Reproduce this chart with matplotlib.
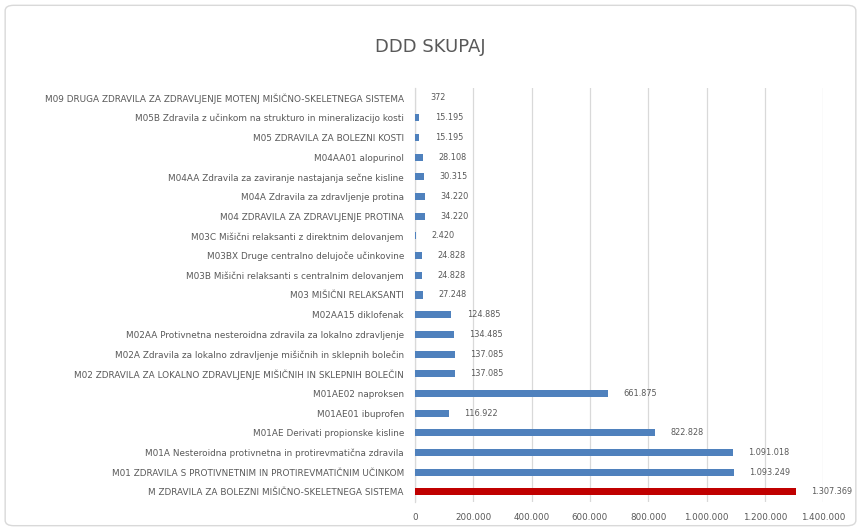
import matplotlib
matplotlib.use("Agg")
import matplotlib.pyplot as plt
from matplotlib.patches import FancyBboxPatch
from matplotlib.ticker import FuncFormatter

categories = [
    "M ZDRAVILA ZA BOLEZNI MIŠIČNO-SKELETNEGA SISTEMA",
    "M01 ZDRAVILA S PROTIVNETNIM IN PROTIREVMATIČNIM UČINKOM",
    "M01A Nesteroidna protivnetna in protirevmatična zdravila",
    "M01AE Derivati propionske kisline",
    "M01AE01 ibuprofen",
    "M01AE02 naproksen",
    "M02 ZDRAVILA ZA LOKALNO ZDRAVLJENJE MIŠIČNIH IN SKLEPNIH BOLEČIN",
    "M02A Zdravila za lokalno zdravljenje mišičnih in sklepnih bolečin",
    "M02AA Protivnetna nesteroidna zdravila za lokalno zdravljenje",
    "M02AA15 diklofenak",
    "M03 MIŠIČNI RELAKSANTI",
    "M03B Mišični relaksanti s centralnim delovanjem",
    "M03BX Druge centralno delujoče učinkovine",
    "M03C Mišični relaksanti z direktnim delovanjem",
    "M04 ZDRAVILA ZA ZDRAVLJENJE PROTINA",
    "M04A Zdravila za zdravljenje protina",
    "M04AA Zdravila za zaviranje nastajanja sečne kisline",
    "M04AA01 alopurinol",
    "M05 ZDRAVILA ZA BOLEZNI KOSTI",
    "M05B Zdravila z učinkom na strukturo in mineralizacijo kosti",
    "M09 DRUGA ZDRAVILA ZA ZDRAVLJENJE MOTENJ MIŠIČNO-SKELETNEGA SISTEMA",
]
values = [1307369, 1093249, 1091018, 822828, 116922, 661875,
          137085, 137085, 134485, 124885,
          27248, 24828, 24828, 2420,
          34220, 34220, 30315, 28108,
          15195, 15195, 372]
x_ticks = [0, 200000, 400000, 600000, 800000, 1000000, 1200000, 1400000]

def fmt(v):
    return f"{int(v):,}".replace(",", ".")

fig = plt.figure(figsize=(8.61, 5.31), dpi=100)
fig.patch.set_facecolor("white")
border = FancyBboxPatch((0.006, 0.01), 0.988, 0.98, boxstyle="round,pad=0,rounding_size=0.01",
                        transform=fig.transFigure, fill=False, edgecolor="#D9D9D9", linewidth=1.0)
fig.patches.append(border)

ax = fig.add_axes([0.482, 0.055, 0.474, 0.779])
ypos = list(range(len(categories)))
colors = ["#C00000"] + ["#4F81BD"] * (len(categories) - 1)
ax.barh(ypos, values, height=0.36, color=colors, zorder=3)
ax.set_ylim(-0.5, len(categories) - 0.5)
ax.set_xlim(0, 1400000)
ax.set_yticks(ypos)
ax.set_yticklabels(categories, fontsize=6.4, color="#595959")
ax.set_xticks(x_ticks)
ax.xaxis.set_major_formatter(FuncFormatter(lambda v, p: fmt(v)))
ax.tick_params(axis="x", labelsize=6.3, colors="#595959", length=0, pad=8)
ax.tick_params(axis="y", length=0, pad=8)
ax.grid(axis="x", color="#D9D9D9", linewidth=0.9, zorder=0)
for s in ["top", "right", "bottom"]:
    ax.spines[s].set_visible(False)
ax.spines["left"].set_color("#D9D9D9")
ax.spines["left"].set_linewidth(0.9)

for y, v in zip(ypos, values):
    ax.annotate(fmt(v), (v, y), xytext=(11, 0), textcoords="offset points",
                va="center", ha="left", fontsize=5.9, color="#595959", zorder=4)

fig.text(0.5, 0.912, "DDD SKUPAJ", ha="center", va="center", fontsize=13, color="#595959")
fig.savefig("out.png", dpi=100)
